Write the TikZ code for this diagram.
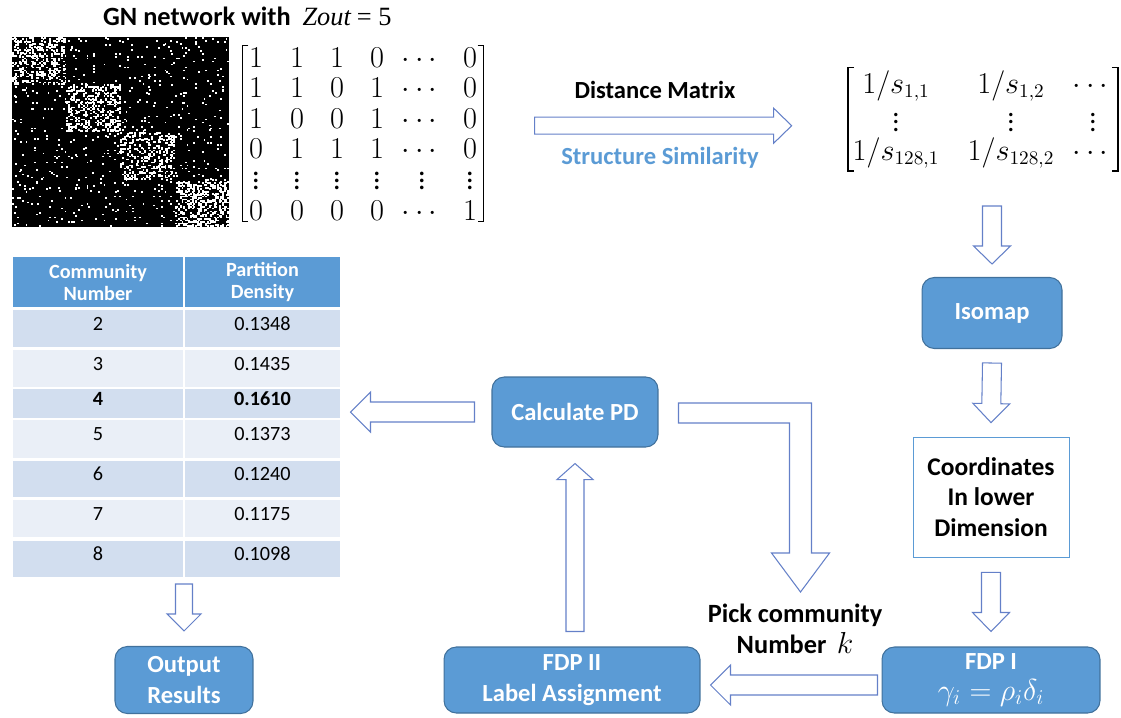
\documentclass[tikz,border=0pt]{standalone}
\usepackage{amsmath}
\usepackage{fontspec}
\setmainfont{Carlito}
\newfontfamily\timesfont{Liberation Serif}
\usetikzlibrary{calc,fit}

\definecolor{boxblue}{RGB}{91,155,213}
\definecolor{boxedge}{RGB}{65,113,156}
\definecolor{arrowline}{RGB}{100,128,200}
\definecolor{rowdark}{RGB}{210,222,239}
\definecolor{rowlight}{RGB}{234,239,247}

\tikzset{
  procbox/.style={rounded corners=7pt, fill=boxblue, draw=boxedge, line width=0.6pt,
    text=white, font=\bfseries\fontsize{14}{17.5}\selectfont, align=center, inner sep=2pt},
  plainbox/.style={draw=boxblue, line width=0.5pt, fill=white,
    font=\bfseries\fontsize{14.5}{17.5}\selectfont, align=center},
  hollow/.style={draw=arrowline, fill=white, line width=0.6pt},
  headcell/.style={fill=boxblue, text=white, font=\bfseries\fontsize{11.5}{12.5}\selectfont,
    align=center, inner sep=0pt, minimum height=1cm},
  datacell/.style={font=\fontsize{11.5}{13}\selectfont, inner sep=0pt,
    text height=8pt, text depth=6pt},
  entry/.style={font=\fontsize{17}{20}\selectfont, inner sep=0pt, anchor=base},
  simentry/.style={font=\fontsize{16}{19}\selectfont, inner sep=0pt, anchor=base},
  bracket/.style={line width=0.7pt},
}

% hollow block arrow: tail, tip, shaft half width, head half width, head length
\newcommand{\blockarrow}[5]{%
  \draw[hollow] let \p1=#1, \p2=#2,
      \n1={atan2(\y2-\y1,\x2-\x1)}, \n2={veclen(\x2-\x1,\y2-\y1)} in
    ($(\p1)+(\n1+90:#3)$) -- ($(\p1)+(\n1+90:#3)+(\n1:\n2-#5)$)
    -- ($(\p1)+(\n1+90:#4)+(\n1:\n2-#5)$) -- (\p2)
    -- ($(\p1)+(\n1-90:#4)+(\n1:\n2-#5)$) -- ($(\p1)+(\n1-90:#3)+(\n1:\n2-#5)$)
    -- ($(\p1)+(\n1-90:#3)$) -- cycle;
}

\begin{document}
\begin{tikzpicture}[x=0.02cm,y=-0.02cm]
  \useasboundingbox (0,0) rectangle (1121,717);

  % GN network picture
  \node[anchor=base west, font=\bfseries\fontsize{15}{17}\selectfont] (title) at (97,25)
    {GN network with \ {\timesfont\mdseries\itshape Zout} {\timesfont\mdseries = 5}};
  \node[fill=black, inner sep=0pt, minimum width=4.34cm, minimum height=3.8cm,
    anchor=north west] (net) at (12,37) {};
  \pgfmathsetseed{1729}
  \foreach \k in {1,...,800}{
    \pgfmathrandominteger{\blk}{0}{3}
    \pgfmathrandominteger{\ii}{0}{31}
    \pgfmathrandominteger{\jj}{0}{31}
    \fill[white] ({12+(32*\blk+\ii)*1.695},{37+(32*\blk+\jj)*1.484}) rectangle ++(1.9,1.7);
    \fill[white] ({12+(32*\blk+\jj)*1.695},{37+(32*\blk+\ii)*1.484}) rectangle ++(1.9,1.7);
  }
  \foreach \k in {1,...,330}{
    \pgfmathrandominteger{\ii}{0}{127}
    \pgfmathrandominteger{\jj}{0}{127}
    \fill[white] ({12+\ii*1.695},{37+\jj*1.484}) rectangle ++(1.9,1.7);
    \fill[white] ({12+\jj*1.695},{37+\ii*1.484}) rectangle ++(1.9,1.7);
  }

  % adjacency matrix
  \foreach \row [count=\r] in {{1,1,1,0,\cdots,0},{1,1,0,1,\cdots,0},{1,0,0,1,\cdots,0},
      {0,1,1,1,\cdots,0},{\vdots,\vdots,\vdots,\vdots,\vdots,\vdots},{0,0,0,0,\cdots,1}}{
    \foreach \e [count=\c] in \row {
      \pgfmathsetmacro{\ex}{{256,297,337,377,422,470}[\c-1]}
      \node[entry] (a-\r-\c) at (\ex,{67+30.6*(\r-1)}) {$\e$};
    }
  }
  \node[fit=(a-1-1)(a-6-6), inner xsep=0.12cm, inner ysep=0.02cm] (adj) {};
  \draw[bracket] ($(adj.north west)+(6,0)$) -- (adj.north west) -- (adj.south west) -- ++(6,0);
  \draw[bracket] ($(adj.north east)+(-6,0)$) -- (adj.north east) -- (adj.south east) -- ++(-6,0);

  % similarity matrix
  \foreach \row [count=\r] in {{{1/s_{1,1}},{1/s_{1,2}},\cdots},{\vdots,\vdots,\vdots},
      {{1/s_{128,1}},{1/s_{128,2}},\cdots}}{
    \foreach \e [count=\c] in \row {
      \pgfmathsetmacro{\ex}{{896,1011,1093}[\c-1]}
      \pgfmathsetmacro{\ey}{{93,131,160}[\r-1]}
      \node[simentry] (s-\r-\c) at (\ex,\ey) {$\e$};
    }
  }
  \node[fit=(s-1-1)(s-1-3)(s-3-1)(s-3-3), inner xsep=0.08cm, inner ysep=0.04cm] (simmat) {};
  \draw[bracket] ($(simmat.north west)+(6,0)$) -- (simmat.north west) -- (simmat.south west) -- ++(6,0);
  \draw[bracket] ($(simmat.north east)+(-6,0)$) -- (simmat.north east) -- (simmat.south east) -- ++(-6,0);

  \node[font=\bfseries\fontsize{14}{16}\selectfont] (dist) at (655,90) {Distance Matrix};
  \node[font=\bfseries\fontsize{14}{16}\selectfont, text=boxblue] (simil) at (660,158) {Structure Similarity};
  \blockarrow{($(adj.east)+(51,-8)$)}{($(adj.east)+(308,-8)$)}{0.17cm}{0.35cm}{0.36cm}

  % pipeline boxes
  \node[procbox, minimum width=2.8cm, minimum height=1.42cm] (iso) at (992,313) {Isomap};
  \node[plainbox, minimum width=3.12cm, minimum height=2.4cm] (coord) at (991,497)
    {Coordinates\\In lower\\Dimension};
  \node[procbox, minimum width=4.36cm, minimum height=1.32cm] (fdpI) at (991,680)
    {FDP I\\{\fontsize{17}{18}\selectfont$\gamma_i = \rho_i\delta_i$}};
  \node[procbox, minimum width=5.12cm, minimum height=1.32cm] (fdpII) at (572,680)
    {FDP II\\Label Assignment};
  \node[procbox, minimum width=3.32cm, minimum height=1.4cm] (calc) at (575,412) {Calculate PD};
  \node[procbox, minimum width=2.76cm, minimum height=1.34cm] (out) at (184,680) {Output\\Results};
  \node[font=\bfseries\fontsize{15}{18}\selectfont, align=center] (pick) at (795,629)
    {Pick community\\Number \,{\fontsize{17}{18}\selectfont$k$}};

  % result table
  \node[headcell, minimum width=3.4cm] (hnum) at (98,282) {Community\\Number};
  \node[headcell, minimum width=3.1cm] (hpd) at (262.5,282) {Partition\\Density};
  \foreach \num/\pd/\ya/\yb/\shade [count=\i] in {2/0.1348/310/347/rowdark,
      3/0.1435/350/387/rowlight, {\textbf{4}}/{\textbf{0.1610}}/389/418/rowdark,
      5/0.1373/420/458/rowlight, 6/0.1240/461/497/rowdark,
      7/0.1175/500/537/rowlight, 8/0.1098/541/577/rowdark}{
    \node[datacell, fill=\shade, minimum width=3.4cm, minimum height={(\yb-\ya)*0.02cm}]
      (n\i) at (98,{(\ya+\yb)/2}) {\num};
    \node[datacell, fill=\shade, minimum width=3.1cm, minimum height={(\yb-\ya)*0.02cm}]
      (p\i) at (262.5,{(\ya+\yb)/2}) {\pd};
  }

  % flow arrows
  \blockarrow{($(iso.north)+(0,-71)$)}{($(iso.north)+(0,-13)$)}{0.19cm}{0.37cm}{0.36cm}
  \blockarrow{($(iso.south)+(0,14)$)}{($(coord.north)+(0,-14)$)}{0.19cm}{0.37cm}{0.38cm}
  \blockarrow{($(coord.south)+(0,15)$)}{($(fdpI.north)+(0,-15)$)}{0.19cm}{0.37cm}{0.38cm}
  \blockarrow{($(fdpI.west)+(-4,5)$)}{($(fdpII.east)+(10,5)$)}{0.2cm}{0.4cm}{0.4cm}
  \blockarrow{($(fdpII.north)+(3,-15)$)}{($(calc.south)+(0,16)$)}{0.18cm}{0.36cm}{0.32cm}
  \blockarrow{($(calc.west)+(-17,0)$)}{($(calc.west)+(-141,0)$)}{0.2cm}{0.4cm}{0.4cm}
  \blockarrow{($(out.north)+(0,-62)$)}{($(out.north)+(0,-15)$)}{0.17cm}{0.34cm}{0.34cm}
  \draw[hollow] ($(calc.east)+(20,-9)$) -- ++(133,0) -- ++(0,150) -- ++(18,0) -- ++(-29,39)
    -- ++(-29,-39) -- ++(18,0) -- ++(0,-130) -- ++(-111,0) -- cycle;
\end{tikzpicture}
\end{document}
